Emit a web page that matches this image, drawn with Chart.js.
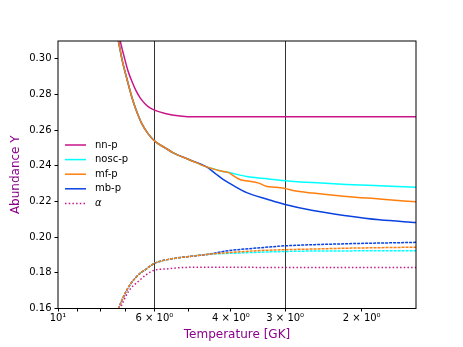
<!DOCTYPE html>
<html><head><meta charset="utf-8">
<script src="https://cdn.jsdelivr.net/npm/chart.js@4.4.1/dist/chart.umd.min.js"></script>
<style>html,body{margin:0;padding:0;background:#fff;overflow:hidden}#wrap{width:463px;height:347px;position:relative}</style>
</head><body><div id="wrap"><canvas id="c" width="463" height="347"></canvas></div>
<script>
// ---- data (temperature in GK, abundance Y) ----
const nnpT  = [7.30, 7.19, 7.04, 6.90, 6.75, 6.61, 6.47, 6.30, 6.14, 5.98, 5.67, 5.24, 4.84, 4.00, 3.00, 2.00, 1.50];
const nnpY  = [0.318, 0.3100, 0.3010, 0.2932, 0.2870, 0.2820, 0.2781, 0.2747, 0.2725, 0.2711, 0.2694, 0.2680, 0.2675, 0.2675, 0.2675, 0.2675, 0.2675];

const noscT = [7.40, 7.26, 7.12, 6.94, 6.73, 6.61, 6.41, 6.20, 5.98, 5.67, 5.43, 4.97, 4.55, 4.40, 4.24, 4.00, 3.68, 3.30, 3.00, 2.59, 2.17, 1.82, 1.50];
const noscY = [0.319, 0.310, 0.2994, 0.2887, 0.2769, 0.2713, 0.2635, 0.2579, 0.2537, 0.2501, 0.2473, 0.2433, 0.2394, 0.2384, 0.2373, 0.2360, 0.2340, 0.2327, 0.2317, 0.2306, 0.2296, 0.2288, 0.2280];

const mfT   = [7.40, 7.26, 7.12, 6.94, 6.73, 6.61, 6.41, 6.20, 5.98, 5.67, 5.43, 4.97, 4.55, 4.40, 4.24, 4.05, 3.95, 3.80, 3.65, 3.45, 3.32, 3.15, 3.00, 2.88, 2.59, 2.17, 1.82, 1.50];
const mfY   = [0.319, 0.310, 0.2994, 0.2887, 0.2769, 0.2713, 0.2635, 0.2579, 0.2537, 0.2501, 0.2473, 0.2433, 0.2394, 0.2383, 0.2372, 0.2362, 0.2345, 0.2322, 0.2315, 0.2303, 0.2286, 0.2280, 0.2273, 0.2262, 0.2247, 0.2228, 0.2214, 0.2198];

const mbT   = [7.40, 7.26, 7.12, 6.94, 6.73, 6.61, 6.41, 6.20, 5.98, 5.67, 5.43, 4.97, 4.55, 4.35, 4.17, 3.92, 3.68, 3.30, 3.00, 2.59, 2.17, 1.82, 1.50];
const mbY   = [0.319, 0.310, 0.2994, 0.2887, 0.2769, 0.2713, 0.2635, 0.2579, 0.2537, 0.2501, 0.2473, 0.2433, 0.2394, 0.2358, 0.2324, 0.2285, 0.2250, 0.2213, 0.2183, 0.2149, 0.2120, 0.2097, 0.2082];

const alphaT = [7.30, 7.19, 6.88, 6.47, 6.30, 6.00, 5.62, 5.24, 4.88, 4.50, 4.00, 3.00, 2.00, 1.50];
const alphaY = [0.1555, 0.160, 0.1696, 0.1761, 0.1785, 0.1815, 0.1822, 0.1829, 0.1831, 0.1831, 0.1831, 0.1830, 0.1830, 0.1830];

const noscLowT = [7.38, 7.26, 6.94, 6.59, 6.30, 6.00, 5.52, 4.97, 4.47, 4.17, 3.49, 2.98, 2.64, 2.17, 1.50];
const noscLowY = [0.1555, 0.160, 0.1705, 0.1780, 0.1817, 0.1853, 0.1877, 0.1892, 0.1905, 0.1908, 0.1915, 0.1920, 0.1922, 0.1923, 0.1924];
const mfLowT   = [7.38, 7.26, 6.94, 6.59, 6.30, 6.00, 5.52, 4.97, 4.47, 4.17, 3.49, 2.98, 2.64, 2.17, 1.82, 1.50];
const mfLowY   = [0.1555, 0.160, 0.1705, 0.1780, 0.1817, 0.1853, 0.1877, 0.1892, 0.1905, 0.1911, 0.1924, 0.1930, 0.1933, 0.1938, 0.1941, 0.1944];
const mbLowT   = [7.38, 7.26, 6.94, 6.59, 6.30, 6.00, 5.52, 4.97, 4.47, 4.17, 3.49, 2.98, 2.64, 2.17, 1.82, 1.50];
const mbLowY   = [0.1555, 0.160, 0.1705, 0.1780, 0.1817, 0.1853, 0.1877, 0.1892, 0.1905, 0.1920, 0.1939, 0.1952, 0.1957, 0.1963, 0.1967, 0.1971];

const xTickValues = [10, 9, 8, 7, 6, 5, 4, 3, 2];
const xTickLabels = ['10¹', '', '', '', '6 × 10⁰', '', '4 × 10⁰', '3 × 10⁰', '2 × 10⁰'];
const xLineValues = [6, 3];
const yTickValues = [0.16, 0.18, 0.20, 0.22, 0.24, 0.26, 0.28, 0.30];

const legendLabels = ['nn-p', 'nosc-p', 'mf-p', 'mb-p', 'α'];

// ---- styling ----
const C_NN = '#c9158a', C_NOSC = '#00ffff', C_MF = '#ff7f0e', C_MB = '#0a42e0';
const FONT = 'DejaVu Sans';
const pts = (T, Y) => T.map((t, i) => ({x: t, y: Y[i]}));
const solid = (label, T, Y, color, order, legendIdx) => ({label, data: pts(T, Y), borderColor: color, backgroundColor: color,
  borderWidth: 1.5, pointRadius: 0, cubicInterpolationMode: 'monotone', order, legendIdx});
const dashed = (label, T, Y, color, order, legendIdx, dash) => Object.assign(solid(label, T, Y, color, order, legendIdx), {borderDash: dash});

const datasets = [
  solid(legendLabels[0], nnpT, nnpY, C_NN, 0, 0),
  solid(legendLabels[1], noscT, noscY, C_NOSC, 2, 1),
  solid(legendLabels[2], mfT, mfY, C_MF, 0, 2),
  solid(legendLabels[3], mbT, mbY, C_MB, 1, 3),
  dashed(legendLabels[4], alphaT, alphaY, C_NN, 0, 4, [1.5, 2.2]),
  dashed('α nosc-p', noscLowT, noscLowY, C_NOSC, 2, -1, [3, 1]),
  dashed('α mf-p', mfLowT, mfLowY, C_MF, 0, -1, [3, 1]),
  dashed('α mb-p', mbLowT, mbLowY, C_MB, 1, -1, [3, 1]),
];

const framePlugin = {
  id: 'frame',
  afterDraw(chart) {
    const {ctx, chartArea: a} = chart;
    ctx.save();
    ctx.strokeStyle = '#000'; ctx.lineWidth = 1;
    ctx.strokeRect(a.left, a.top, a.right - a.left, a.bottom - a.top);
    ctx.restore();
  }
};
const legendPlugin = {
  id: 'mplLegend',
  afterDraw(chart) {
    const {ctx} = chart;
    const items = chart.data.datasets.filter(d => d.legendIdx >= 0).sort((a, b) => a.legendIdx - b.legendIdx);
    const x0 = 65, x1 = 86, tx = 95, y0 = 145, dy = 14.6;
    ctx.save();
    items.forEach((d, i) => {
      const y = y0 + i * dy;
      ctx.strokeStyle = d.borderColor; ctx.lineWidth = 1.5;
      ctx.setLineDash(d.borderDash || []);
      ctx.beginPath(); ctx.moveTo(x0, y); ctx.lineTo(x1, y); ctx.stroke();
      ctx.setLineDash([]);
      ctx.fillStyle = '#000';
      ctx.font = (d.label === 'α' ? 'italic ' : '') + '10px "' + FONT + '"';
      ctx.textBaseline = 'middle'; ctx.textAlign = 'left';
      ctx.fillText(d.label, tx, y);
    });
    ctx.restore();
  }
};

new Chart(document.getElementById('c'), {
  type: 'line',
  data: {datasets},
  options: {
    responsive: false, animation: false, devicePixelRatio: 1,
    layout: {padding: {top: 41, right: 47, left: 0, bottom: 0}},
    plugins: {legend: {display: false}, tooltip: {enabled: false}},
    scales: {
      x: {
        type: 'logarithmic', reverse: true, min: 1.5, max: 10,
        afterBuildTicks: s => { s.ticks = xTickValues.map(v => ({value: v})); },
        afterFit: s => { s.height = 38.5; },
        ticks: {autoSkip: false, maxRotation: 0, minRotation: 0, padding: 1, color: '#000',
          font: {family: FONT, size: 10}, callback: (v, i) => xTickLabels[i]},
        grid: {drawOnChartArea: true, lineWidth: 1, tickLength: 3, tickColor: '#000',
          color: c => (c.tick && xLineValues.includes(c.tick.value)) ? '#333' : 'rgba(0,0,0,0)'},
        border: {display: false},
        title: {display: true, text: 'Temperature [GK]', color: '#8B008B', font: {family: FONT, size: 12}, padding: {top: 0, bottom: 5}}
      },
      y: {
        type: 'linear', min: 0.16, max: 0.31,
        afterBuildTicks: s => { s.ticks = yTickValues.map(v => ({value: v})); },
        afterFit: s => { s.width = 58; },
        ticks: {padding: 3, color: '#000', font: {family: FONT, size: 10}, callback: v => Number(v).toFixed(2)},
        grid: {drawOnChartArea: false, tickLength: 3.5, tickColor: '#000'},
        border: {display: false},
        title: {display: true, text: 'Abundance Y', color: '#8B008B', font: {family: FONT, size: 12}, padding: {top: 9, bottom: 0}}
      }
    }
  },
  plugins: [framePlugin, legendPlugin]
});
</script>
</body></html>
